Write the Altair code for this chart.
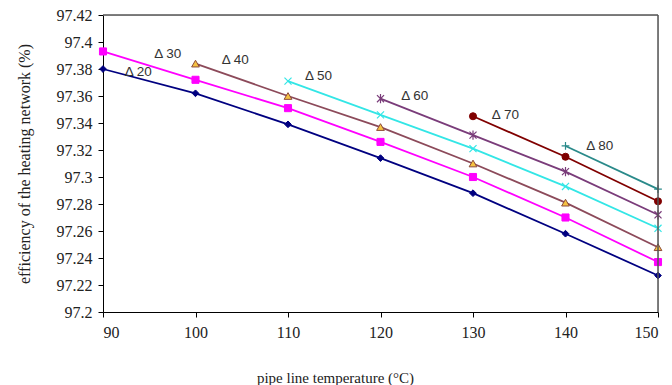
import altair as alt
import pandas as pd

temps = [90, 100, 110, 120, 130, 140, 150]
d20 = [97.380, 97.362, 97.339, 97.314, 97.288, 97.258, 97.227]
d30 = [97.393, 97.372, 97.351, 97.326, 97.300, 97.270, 97.237]
d40 = [None, 97.384, 97.360, 97.337, 97.310, 97.281, 97.248]
d50 = [None, None, 97.371, 97.346, 97.321, 97.293, 97.262]
d60 = [None, None, None, 97.358, 97.331, 97.304, 97.272]
d70 = [None, None, None, None, 97.345, 97.315, 97.282]
d80 = [None, None, None, None, None, 97.323, 97.291]

series_names = ["Δ 20", "Δ 30", "Δ 40", "Δ 50", "Δ 60", "Δ 70", "Δ 80"]
label_x = [93.8, 97.0, 104.3, 113.3, 123.7, 133.5, 143.7]
label_y = [97.378, 97.391, 97.387, 97.375, 97.360, 97.346, 97.323]
y_ticks = [97.2, 97.22, 97.24, 97.26, 97.28, 97.3, 97.32, 97.34, 97.36, 97.38, 97.4, 97.42]

values = [d20, d30, d40, d50, d60, d70, d80]
line_colors = ["#000080", "#FF00FF", "#8C4A5A", "#33E6E6", "#7A3C7A", "#800000", "#2A8A8A"]

W, H = 555, 297

X_PATH = "M-1,-1L1,1M-1,1L1,-1"
AST_PATH = "M-1,-1L1,1M-1,1L1,-1M0,-1.3L0,1.3"
PLUS_PATH = "M-1,0L1,0M0,-1L0,1"
markers = [
    dict(shape="diamond", filled=True, fill="#000080", stroke="#000080", size=45, strokeWidth=1),
    dict(shape="square", filled=True, fill="#FF00FF", stroke="#FF00FF", size=50, strokeWidth=1),
    dict(shape="triangle-up", filled=True, fill="#F5C242", stroke="#8C4A3A", size=60, strokeWidth=1),
    dict(shape=X_PATH, filled=False, stroke="#33E6E6", size=50, strokeWidth=1.2),
    dict(shape=AST_PATH, filled=False, stroke="#7A3C7A", size=50, strokeWidth=1.2),
    dict(shape="circle", filled=True, fill="#800000", stroke="#800000", size=50, strokeWidth=1),
    dict(shape=PLUS_PATH, filled=False, stroke="#2A8A8A", size=60, strokeWidth=1.2),
]

rows = []
for name, vals in zip(series_names, values):
    for t, v in zip(temps, vals):
        if v is not None:
            rows.append({"series": name, "temp": t, "eff": v})
df = pd.DataFrame(rows)

xscale = alt.Scale(domain=[90, 150], nice=False)
yscale = alt.Scale(domain=[97.2, 97.42], nice=False, zero=False)

xs = alt.X("temp:Q", scale=xscale,
           axis=alt.Axis(values=temps, title="pipe line temperature (°C)",
                         grid=False, domainColor="#000", tickColor="#000",
                         labelFont="Liberation Serif", labelFontSize=16, labelColor="#222",
                         titleFont="Liberation Serif", titleFontSize=15, titleFontWeight="normal",
                         titleColor="#222", labelPadding=7, titlePadding=30, titleX=232,
                         tickSize=5, labelOverlap=False))
ys = alt.Y("eff:Q", scale=yscale,
           axis=alt.Axis(values=y_ticks, format=".2~f",
                         title="efficiency of the heating network (%)",
                         grid=False, domainColor="#000", tickColor="#000",
                         labelFont="Liberation Serif", labelFontSize=16, labelColor="#222",
                         titleFont="Liberation Serif", titleFontSize=16, titleFontWeight="normal",
                         titleColor="#222", labelPadding=6, titlePadding=24, tickSize=5,
                         labelOverlap=False))

base_one = alt.Chart(pd.DataFrame({"a": [0]}))
top_rule = base_one.mark_rule(color="#555", strokeWidth=1.5).encode(
    x=alt.value(0), x2=alt.value(W), y=alt.value(0))
right_rule = base_one.mark_rule(color="#555", strokeWidth=1.5).encode(
    x=alt.value(W), y=alt.value(0), y2=alt.value(H))

layers = []
for name, col, mk in zip(series_names, line_colors, markers):
    sub = alt.Chart(df).transform_filter(alt.datum.series == name)
    layers.append(sub.mark_line(color=col, strokeWidth=1.8).encode(x=xs, y=ys))
    layers.append(sub.mark_point(opacity=1, **mk).encode(x=xs, y=ys))

labels = pd.DataFrame({"label": series_names, "temp": label_x, "eff": label_y})
text = alt.Chart(labels).mark_text(font="Liberation Sans", fontSize=13.5, color="#333",
                                   align="center", baseline="middle").encode(
    x=xs, y=ys, text="label:N")
layers += [text, top_rule, right_rule]

chart = alt.layer(*layers).properties(
    width=W, height=H,
    autosize=alt.AutoSizeParams(type="none"),
    padding={"left": 95, "top": 7, "right": 6, "bottom": 75},
).configure_view(stroke=None).configure(background="white")

chart.save("out.html", embed_options={"renderer": "svg", "actions": False})
